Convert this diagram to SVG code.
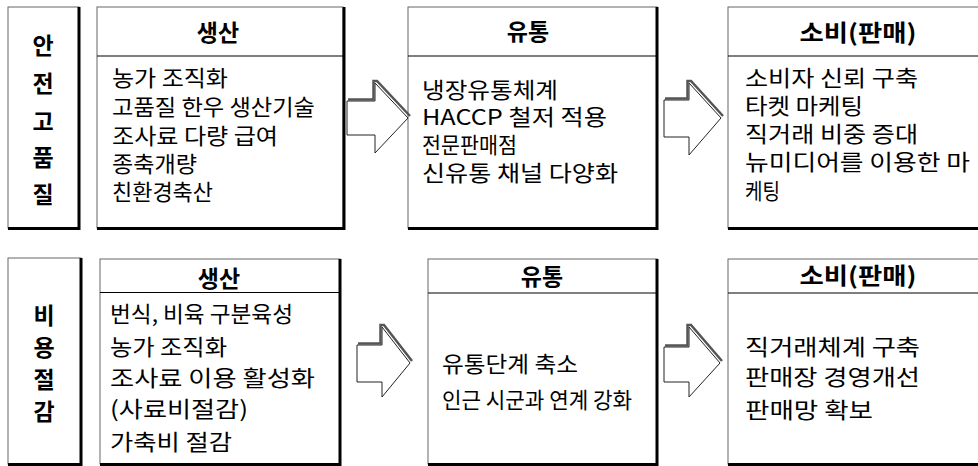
<svg xmlns="http://www.w3.org/2000/svg" width="978" height="466" viewBox="0 0 978 466">
<defs>
<style>
.box{fill:#fff;stroke:#666;stroke-width:1}
.sh{fill:none;stroke:#000;stroke-width:3}
.div{stroke:#000;stroke-width:1.2}
.t{font-family:"Noto Sans CJK KR","Noto Sans",sans-serif;font-size:22px;fill:#000}
.h{font-family:"Noto Sans CJK KR","Noto Sans",sans-serif;font-size:23px;font-weight:bold;fill:#000;text-anchor:middle}
.arr{fill:#fff;stroke:#222;stroke-width:1}
.ash{fill:none;stroke:#555;stroke-width:2.5}
</style>
</defs>
<rect width="978" height="466" fill="#fff"/>

<g id="label-safety">
<rect class="box" x="8" y="7" width="71" height="221"/>
<polyline class="sh" points="79,7 79,228.5 8,228.5"/>
<text class="h" x="43" y="54">안</text>
<text class="h" x="43" y="92">전</text>
<text class="h" x="43" y="130">고</text>
<text class="h" x="43" y="166">품</text>
<text class="h" x="43" y="203">질</text>
</g>

<g id="safety-production">
<rect class="box" x="97" y="7" width="246" height="221"/>
<polyline class="sh" points="344,7 344,228.5 97,228.5"/>
<line class="div" x1="97" y1="56" x2="343" y2="56"/>
<text class="h" x="218" y="41">생산</text>
<text class="t" x="112" y="86" textLength="116" lengthAdjust="spacingAndGlyphs">농가 조직화</text>
<text class="t" x="112" y="115" textLength="203" lengthAdjust="spacingAndGlyphs">고품질 한우 생산기술</text>
<text class="t" x="112" y="144" textLength="166" lengthAdjust="spacingAndGlyphs">조사료 다량 급여</text>
<text class="t" x="112" y="172" textLength="85" lengthAdjust="spacingAndGlyphs">종축개량</text>
<text class="t" x="112" y="200" textLength="101" lengthAdjust="spacingAndGlyphs">친환경축산</text>
</g>

<g id="safety-distribution">
<rect class="box" x="408" y="7" width="249" height="221"/>
<polyline class="sh" points="657,7 657,228.5 408,228.5"/>
<line class="div" x1="408" y1="56" x2="656" y2="56"/>
<text class="h" x="528" y="40">유통</text>
<text class="t" x="422" y="98" textLength="136" lengthAdjust="spacingAndGlyphs">냉장유통체계</text>
<text class="t" x="422" y="125" textLength="185" lengthAdjust="spacingAndGlyphs">HACCP 철저 적용</text>
<text class="t" x="422" y="153" textLength="95" lengthAdjust="spacingAndGlyphs">전문판매점</text>
<text class="t" x="422" y="181" textLength="196" lengthAdjust="spacingAndGlyphs">신유통 채널 다양화</text>
</g>

<g id="safety-consumption">
<rect class="box" x="728" y="7" width="262" height="221"/>
<polyline class="sh" points="728,228.5 990,228.5"/>
<line class="div" x1="728" y1="56" x2="990" y2="56"/>
<text class="h" x="858" y="41" textLength="117" lengthAdjust="spacingAndGlyphs">소비(판매)</text>
<text class="t" x="745" y="86" textLength="173" lengthAdjust="spacingAndGlyphs">소비자 신뢰 구축</text>
<text class="t" x="745" y="114" textLength="118" lengthAdjust="spacingAndGlyphs">타켓 마케팅</text>
<text class="t" x="745" y="142" textLength="173" lengthAdjust="spacingAndGlyphs">직거래 비중 증대</text>
<text class="t" x="745" y="170" textLength="225" lengthAdjust="spacingAndGlyphs">뉴미디어를 이용한 마</text>
<text class="t" x="745" y="199" textLength="35" lengthAdjust="spacingAndGlyphs">케팅</text>
</g>

<g id="label-cost">
<rect class="box" x="8" y="258" width="73" height="206"/>
<polyline class="sh" points="81,258 81,464.5 8,464.5"/>
<text class="h" x="44" y="324">비</text>
<text class="h" x="44" y="356">용</text>
<text class="h" x="44" y="388">절</text>
<text class="h" x="44" y="420">감</text>
</g>

<g id="cost-production">
<rect class="box" x="100" y="259" width="240" height="205"/>
<polyline class="sh" points="340,259 340,464.5 100,464.5"/>
<line class="div" x1="100" y1="292.5" x2="339" y2="292.5"/>
<text class="h" x="219" y="287">생산</text>
<text class="t" x="110" y="322" textLength="183" lengthAdjust="spacingAndGlyphs">번식, 비육 구분육성</text>
<text class="t" x="110" y="355" textLength="117" lengthAdjust="spacingAndGlyphs">농가 조직화</text>
<text class="t" x="110" y="386" textLength="205" lengthAdjust="spacingAndGlyphs">조사료 이용 활성화</text>
<text class="t" x="110" y="417" textLength="138" lengthAdjust="spacingAndGlyphs">(사료비절감)</text>
<text class="t" x="110" y="450" textLength="122" lengthAdjust="spacingAndGlyphs">가축비 절감</text>
</g>

<g id="cost-distribution">
<rect class="box" x="428" y="259" width="229" height="205"/>
<polyline class="sh" points="657,259 657,464.5 428,464.5"/>
<line class="div" x1="428" y1="293" x2="656" y2="293"/>
<text class="h" x="542" y="285">유통</text>
<text class="t" x="442" y="372" textLength="136" lengthAdjust="spacingAndGlyphs">유통단계 축소</text>
<text class="t" x="442" y="408" textLength="190" lengthAdjust="spacingAndGlyphs">인근 시군과 연계 강화</text>
</g>

<g id="cost-consumption">
<rect class="box" x="728" y="259" width="262" height="205"/>
<polyline class="sh" points="728,464.5 990,464.5"/>
<line class="div" x1="728" y1="293" x2="990" y2="293"/>
<text class="h" x="858" y="284" textLength="117" lengthAdjust="spacingAndGlyphs">소비(판매)</text>
<text class="t" x="745" y="355" textLength="175" lengthAdjust="spacingAndGlyphs">직거래체계 구축</text>
<text class="t" x="745" y="385" textLength="175" lengthAdjust="spacingAndGlyphs">판매장 경영개선</text>
<text class="t" x="745" y="418" textLength="128" lengthAdjust="spacingAndGlyphs">판매망 확보</text>
</g>

<g id="connectors">
<polygon class="arr" points="347,101 375,101 375,83 408,118 375,153 375,135 347,135"/>
<polyline class="ash" points="348,99.5 373.5,99.5 373.5,81 377,81 410,116"/>
<polygon class="arr" points="664,100 689,100 689,83 721,118 689,155 689,137 664,137"/>
<polyline class="ash" points="665,98.5 687.5,98.5 687.5,81 691,81 723,116"/>
<polygon class="arr" points="357,345 382,345 382,327 410,363 382,397 382,382 357,382"/>
<polyline class="ash" points="358,343.5 380.5,343.5 380.5,325 384,325 412,361"/>
<polygon class="arr" points="664,347 689,347 689,327 720,363 689,397 689,382 664,382"/>
<polyline class="ash" points="665,345.5 687.5,345.5 687.5,325 691,325 722,361"/>
</g>
</svg>
